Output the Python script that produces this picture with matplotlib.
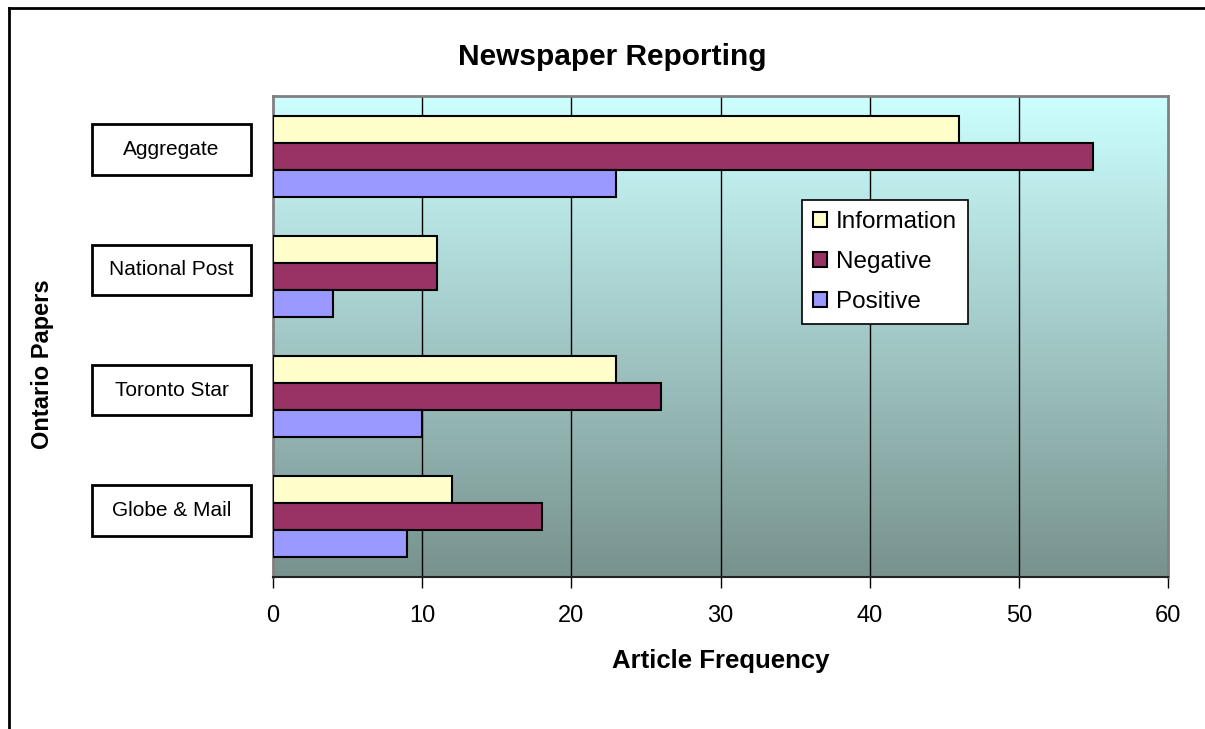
import matplotlib.pyplot as plt
from matplotlib.patches import Rectangle
from matplotlib.lines import Line2D
import numpy as np

plt.rcParams['font.family'] = ['Liberation Sans', 'DejaVu Sans']

# top to bottom, as shown
papers = ['Aggregate', 'National Post', 'Toronto Star', 'Globe & Mail']
series = ['Information', 'Negative', 'Positive']
information = [46, 11, 23, 12]
negative = [55, 11, 26, 18]
positive = [23, 4, 10, 9]
xticks = [0, 10, 20, 30, 40, 50, 60]

colors = {'Information': '#FFFFCC', 'Negative': '#993366', 'Positive': '#9999FF'}
values = {'Information': information, 'Negative': negative, 'Positive': positive}

fig = plt.figure(figsize=(12.05, 7.29), dpi=100)
ax = fig.add_axes([0.2266, 0.2085, 0.7427, 0.6598])

# gradient background, light cyan at top to grey teal at bottom
top = np.array([204, 255, 255]) / 255
bot = np.array([120, 146, 142]) / 255
t = np.linspace(0, 1, 256)[:, None]
grad = (top * (1 - t) + bot * t)[:, None, :]
ax.imshow(grad, extent=[0, 60, 3.5, -0.5], aspect='auto', zorder=0)

y = np.arange(len(papers))
h = 0.225
for i, s in enumerate(series):
    ax.barh(y + (i - 1) * h, values[s], height=h, color=colors[s],
            edgecolor='black', linewidth=1.5, label=s, zorder=3)

ax.set_xlim(0, 60)
ax.set_ylim(3.5, -0.5)
ax.set_xticks(xticks)
ax.set_yticks([])
ax.tick_params(axis='x', direction='out', length=8, width=1, pad=12, labelsize=17)
for x in xticks[1:-1]:
    ax.axvline(x, color='black', lw=1, zorder=2)

for side in ['top', 'right', 'left']:
    ax.spines[side].set_color('#808080')
    ax.spines[side].set_linewidth(2)
ax.spines['bottom'].set_color('#222222')
ax.spines['bottom'].set_linewidth(1.5)

# boxed category labels (sit a little above the bar groups)
trans = ax.get_yaxis_transform()
for yi, name in zip(y, papers):
    yc = yi - 0.055
    ax.add_patch(Rectangle((-0.2022, yc - 0.21), 0.1776, 0.42, transform=trans,
                           facecolor='white', edgecolor='black', lw=2, clip_on=False))
    ax.text(-0.1134, yc, name, transform=trans, ha='center', va='center', fontsize=15)

leg = ax.legend(loc='upper left', bbox_to_anchor=(0.591, 0.784), fontsize=17.5,
                frameon=True, fancybox=False, edgecolor='black', framealpha=1,
                handlelength=0.6, handleheight=0.6, handletextpad=0.35,
                labelspacing=0.75, borderpad=0.45, borderaxespad=0)
leg.get_frame().set_linewidth(1.2)

ax.set_xlabel('Article Frequency', fontsize=18.5, fontweight='bold', labelpad=16)
fig.text(0.035, 0.5, 'Ontario Papers', rotation=90, ha='center', va='center',
         fontsize=17, fontweight='bold')
fig.text(0.508, 0.922, 'Newspaper Reporting', ha='center', va='center',
         fontsize=21.5, fontweight='bold')

# outer chart border (top and left visible)
fig.add_artist(Line2D([9 / 1205, 1], [1 - 8 / 729] * 2, color='black', lw=2))
fig.add_artist(Line2D([9 / 1205] * 2, [0, 1 - 8 / 729], color='black', lw=2))

fig.savefig('out.png', dpi=100)
